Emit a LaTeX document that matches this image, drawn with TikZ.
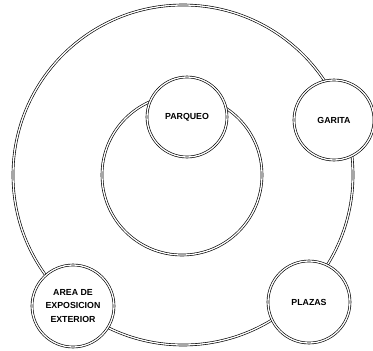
\documentclass[tikz,border=0pt]{standalone}
\usepackage{fontspec}
\setmainfont{Liberation Sans}
\begin{document}
\begin{tikzpicture}[x=1pt,y=-1pt,
  ring/.style={circle,draw=black,double=white,line width=0.65pt,double distance=1.3pt,inner sep=0pt},
  room/.style={ring,fill=white,font=\fontsize{8.8}{13.5}\selectfont\bfseries,align=center,text=black}]
\useasboundingbox (0,0) rectangle (373,351);
\node[ring,minimum size=340] (outer) at (183,175) {};
\node[ring,minimum size=160] (inner) at (182,175) {};
\node[room,minimum size=80] (parqueo) at (187,117) {PARQUEO};
\node[room,minimum size=80] (garita) at (334,120) {GARITA};
\node[room,minimum size=82] (plazas) at (309,302) {PLAZAS};
\node[room,minimum size=82] (area) at (73,306) {AREA DE\\EXPOSICION\\EXTERIOR};
\end{tikzpicture}
\end{document}
